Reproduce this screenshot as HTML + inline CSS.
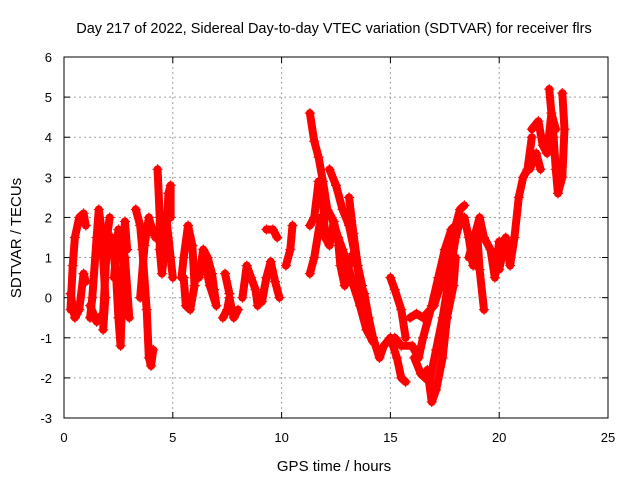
<!DOCTYPE html>
<html><head><meta charset="utf-8"><style>
body{margin:0;background:#fff}
svg text{font-family:"Liberation Sans",sans-serif;fill:#000}
</style></head><body>
<svg id="c" width="640" height="480">
<text x="334" y="33" font-size="14.5" text-anchor="middle">Day 217 of 2022, Sidereal Day-to-day VTEC variation (SDTVAR) for receiver flrs</text>
<text x="334" y="471" font-size="15" text-anchor="middle">GPS time / hours</text>
<text transform="translate(21,238) rotate(-90)" font-size="15" text-anchor="middle">SDTVAR / TECUs</text>
<g id="grid"></g><g id="ticks"></g><g id="marks"></g>
<rect x="64" y="57" width="544" height="361" fill="none" stroke="#000" stroke-width="1"/>
</svg>
<script>
const xTicks=[0,5,10,15,20,25];
const yTicks=[-3,-2,-1,0,1,2,3,4,5,6];
const tracks=[
[[0.3,-0.3],[0.4,0.8],[0.5,1.5],[0.7,2.0],[0.9,2.1],[1.0,1.8]],
[[0.3,0.1],[0.5,-0.5],[0.7,-0.3],[0.9,0.6],[1.0,0.4]],
[[1.2,-0.5],[1.3,0.0],[1.5,1.5],[1.6,2.2],[1.7,1.8],[1.8,1.0],[1.9,0.0],[1.8,-0.8]],
[[1.2,-0.2],[1.5,-0.6],[1.8,-0.4],[2.0,1.6],[2.1,2.0]],
[[2.2,1.5],[2.4,0.5],[2.5,-0.5],[2.6,-1.2],[2.7,0.5],[2.8,1.9],[2.9,1.2]],
[[2.3,0.5],[2.5,1.7],[2.8,1.0],[3.0,-0.5]],
[[3.3,2.2],[3.5,1.8],[3.6,1.2],[3.8,-0.3],[3.9,-1.5],[4.0,-1.7],[4.1,-1.3]],
[[3.5,0.0],[3.7,1.3],[3.9,2.0],[4.1,1.6]],
[[4.3,3.2],[4.4,2.0],[4.4,1.2],[4.5,0.6],[4.7,1.5],[4.8,2.6],[4.9,2.8],[4.9,2.0]],
[[4.2,1.5],[4.5,1.9],[4.7,2.0],[4.9,1.0],[5.0,0.5]],
[[5.4,0.5],[5.5,1.0],[5.7,1.8],[5.9,1.3],[6.0,0.3],[5.8,-0.3],[5.6,-0.2],[5.5,0.5]],
[[6.2,0.5],[6.4,1.2],[6.6,1.0],[6.8,0.6],[6.9,0.2],[7.0,-0.2],[6.7,0.3],[6.5,0.8]],
[[7.3,-0.5],[7.5,-0.3],[7.6,0.0],[7.8,-0.5],[8.0,-0.3]],
[[7.4,0.6],[7.6,0.1]],
[[8.2,0.0],[8.4,0.8],[8.6,0.5],[8.8,0.2],[8.9,-0.2]],
[[9.1,-0.1],[9.3,0.5],[9.5,0.9],[9.7,0.4],[9.9,0.0]],
[[9.3,1.7],[9.6,1.7],[9.8,1.5]],
[[10.2,0.8],[10.4,1.2],[10.5,1.8]],
[[11.3,4.6],[11.5,3.9],[11.7,3.5],[11.9,2.9],[12.1,2.2],[12.3,2.0],[12.6,1.5],[12.8,1.2],[13.0,0.9],[13.3,0.3],[13.6,-0.2],[13.9,-0.8],[14.2,-1.1]],
[[11.3,1.8],[11.5,2.0],[11.7,2.9],[11.9,2.5],[12.0,1.5],[12.2,1.3],[12.4,1.9],[12.6,1.4],[12.7,0.8],[12.9,0.3],[13.1,0.8],[13.3,1.1]],
[[12.2,3.2],[12.5,2.8],[12.8,2.2],[13.1,1.8],[13.4,1.0],[13.6,0.4],[13.8,0.1],[14.0,-0.5],[14.2,-1.0]],
[[11.3,0.6],[11.5,1.0],[11.8,2.0]],
[[13.1,2.5],[13.3,1.6],[13.5,0.8],[13.7,0.3]],
[[14.2,-1.0],[14.5,-1.5],[14.7,-1.2],[15.0,-1.0]],
[[15.0,0.5],[15.2,0.2],[15.5,-0.3],[15.7,-1.0]],
[[15.0,-1.0],[15.3,-1.5],[15.5,-2.0],[15.7,-2.1]],
[[15.2,-1.0],[15.5,-1.2],[16.0,-1.2],[16.3,-1.5],[16.5,-1.0],[16.9,-0.2],[17.2,0.5],[17.5,1.2],[17.8,1.7],[18.0,1.8]],
[[15.9,-0.5],[16.2,-0.4],[16.5,-0.5],[17.0,-0.2],[17.3,0.3],[17.6,1.0],[17.9,1.6],[18.2,2.2],[18.4,2.3]],
[[16.1,-1.5],[16.4,-1.9],[16.8,-2.1],[17.1,-1.3],[17.4,-0.5],[17.7,0.5],[18.0,1.5],[18.2,1.9]],
[[16.7,-1.8],[16.9,-2.6],[17.1,-2.3],[17.4,-1.5],[17.6,-0.5],[17.9,0.3],[18.0,1.0]],
[[18.0,1.7],[18.4,2.0],[18.6,1.5],[18.8,0.8],[18.9,1.2],[19.0,1.5],[19.1,0.7],[19.3,-0.3]],
[[18.6,1.0],[19.1,2.0],[19.3,1.5],[19.6,1.2],[19.8,0.5],[20.0,1.4]],
[[20.0,0.7],[20.3,1.5],[20.5,0.8],[20.7,1.5],[20.9,2.5],[21.1,3.0],[21.3,3.2],[21.5,4.0]],
[[21.5,4.2],[21.8,4.4],[22.0,3.8],[22.2,3.6],[22.4,4.6],[22.6,4.2]],
[[21.4,3.2],[21.7,3.6],[21.9,3.2]],
[[22.3,5.2],[22.5,4.0],[22.6,3.2],[22.7,2.6],[22.9,3.0],[23.0,4.2],[22.9,5.1]]
];
const NS='http://www.w3.org/2000/svg';
const X=t=>64+t*(544/25);
const Y=v=>418-(v+3)*(361/9);
const grid=document.getElementById('grid'),ticks=document.getElementById('ticks'),marks=document.getElementById('marks');
function mk(tag,attrs,parent){const e=document.createElementNS(NS,tag);for(const k in attrs)e.setAttribute(k,attrs[k]);parent.appendChild(e);return e;}
xTicks.forEach(t=>{
  if(t>0&&t<25){const g=mk('line',{x1:X(t),x2:X(t),y1:57,y2:418,stroke:'#a0a0a0','stroke-dasharray':'2,3'},grid);
  
  }
  mk('line',{x1:X(t),x2:X(t),y1:418,y2:412,stroke:'#000'},ticks);
  mk('line',{x1:X(t),x2:X(t),y1:57,y2:63,stroke:'#000'},ticks);
  const l=mk('text',{x:X(t),y:442,'font-size':13,'text-anchor':'middle'},ticks);l.textContent=t;
  
  
});
yTicks.forEach(v=>{
  if(v>-3&&v<6){const g=mk('line',{x1:64,x2:608,y1:Y(v),y2:Y(v),stroke:'#a0a0a0','stroke-dasharray':'2,3'},grid);
  
  }
  mk('line',{x1:64,x2:70,y1:Y(v),y2:Y(v),stroke:'#000'},ticks);
  mk('line',{x1:602,x2:608,y1:Y(v),y2:Y(v),stroke:'#000'},ticks);
  const l=mk('text',{x:52,y:Y(v)+5,'font-size':13,'text-anchor':'end'},ticks);l.textContent=v;
  
  
});
tracks.forEach(tr=>{
  const pl=mk('polyline',{points:tr.map(p=>X(p[0])+','+Y(p[1])).join(' '),fill:'none',stroke:'#f00','stroke-width':8,'stroke-linejoin':'round','stroke-linecap':'round'},marks);
  
  
  tr.forEach(p=>{
    const x=X(p[0]),y=Y(p[1]);
    const m=mk('path',{d:`M${x-5},${y}H${x+5}M${x},${y-5}V${y+5}`,stroke:'#f00','stroke-width':1.2},marks);
    
    
  });
});
</script>
</body></html>
